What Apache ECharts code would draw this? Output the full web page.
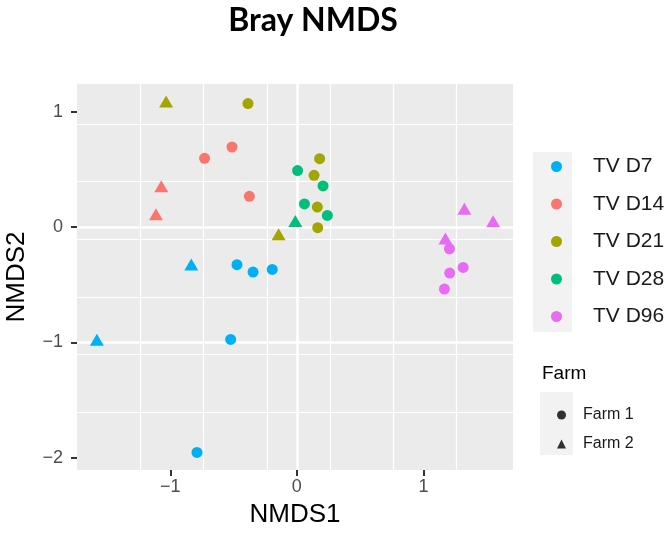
<!DOCTYPE html>
<html>
<head>
<meta charset="utf-8">
<script src="https://cdn.jsdelivr.net/npm/echarts@6/dist/echarts.min.js"></script>
<style>
  html, body { margin: 0; padding: 0; background: #fff; }
  #chart { width: 670px; height: 537px; }
</style>
</head>
<body>
<div id="chart"></div>
<script>
  // groups (legend order) and their ggplot hue colours
  const groups = ['TV D7', 'TV D14', 'TV D21', 'TV D28', 'TV D96'];
  const groupColors = ['#00B0F6', '#F8766D', '#A3A500', '#00BF7D', '#E76BF3'];

  // points: [NMDS1, NMDS2, farm]
  const d7 = [
    [-0.473, -0.326, 1], [-0.346, -0.39, 1], [-0.194, -0.367, 1],
    [-0.523, -0.974, 1], [-0.789, -1.954, 1],
    [-0.834, -0.324, 2], [-1.58, -0.977, 2]
  ];
  const d14 = [
    [-0.512, 0.694, 1], [-0.729, 0.596, 1], [-0.375, 0.266, 1],
    [-1.071, 0.353, 2], [-1.113, 0.11, 2]
  ];
  const d21 = [
    [-0.386, 1.07, 1], [0.18, 0.593, 1], [0.136, 0.448, 1],
    [0.162, 0.173, 1], [0.165, -0.005, 1],
    [-1.033, 1.088, 2], [-0.144, -0.063, 2]
  ];
  const d28 = [
    [0.006, 0.49, 1], [0.06, 0.2, 1], [0.207, 0.356, 1], [0.241, 0.101, 1],
    [-0.012, 0.052, 2]
  ];
  const d96 = [
    [1.206, -0.188, 1], [1.314, -0.35, 1], [1.208, -0.399, 1], [1.166, -0.538, 1],
    [1.324, 0.159, 2], [1.551, 0.05, 2], [1.174, -0.1, 2]
  ];
  const groupData = [d7, d14, d21, d28, d96];
  const farms = ['Farm 1', 'Farm 2'];

  const xTicks = [-1, 0, 1];
  const yTicks = [-2, -1, 0, 1];
  const xRange = [-1.737, 1.708];
  const yRange = [-2.106, 1.24];

  const chart = echarts.init(document.getElementById('chart'));

  const tickLabel = {
    color: '#4D4D4D', fontSize: 18, fontFamily: 'Liberation Sans',
    formatter: (v) => String(v).replace('-', '\u2212')
  };

  // major axis (labels, ticks, thick grid) + minor axis (thin grid only)
  function majorAxis(range, ticks, extra) {
    return Object.assign({
      type: 'value',
      min: range[0],
      max: range[1],
      interval: 1,
      axisLine: { show: false, onZero: false },
      axisTick: { show: true, length: 6, customValues: ticks, lineStyle: { color: '#333', width: 2 } },
      splitLine: { show: true, showMinLine: false, showMaxLine: false, lineStyle: { color: '#fff', width: 2.5 } },
      nameTextStyle: { color: '#000', fontSize: 26, fontFamily: 'Liberation Sans' }
    }, extra);
  }
  function minorAxis(range, pos) {
    return {
      type: 'value',
      position: pos,
      min: range[0],
      max: range[1],
      interval: 0.5,
      axisLine: { show: false, onZero: false },
      axisTick: { show: false },
      axisLabel: { show: false },
      splitLine: { show: true, showMinLine: false, showMaxLine: false, lineStyle: { color: '#fff', width: 1.2 } }
    };
  }

  const series = groups.map((g, i) => ({
    name: g,
    type: 'scatter',
    xAxisIndex: 1,
    yAxisIndex: 1,
    data: groupData[i],
    itemStyle: { color: groupColors[i], opacity: 1 },
    symbol: (v) => v[2] === 1 ? 'circle' : 'triangle',
    symbolSize: (v) => v[2] === 1 ? 11 : [14, 12],
    emphasis: { disabled: true }
  }));
  farms.forEach(f => series.push({
    name: f, type: 'scatter', xAxisIndex: 1, yAxisIndex: 1, data: [],
    itemStyle: { color: '#000' }
  }));

  chart.setOption({
    animation: false,
    title: {
      text: 'Bray NMDS',
      left: 308,
      top: 0,
      textAlign: 'center',
      textStyle: { fontFamily: 'Lato', fontWeight: 'bold', fontSize: 32, color: '#000' }
    },
    grid: {
      left: 77, right: 157, top: 84, bottom: 67,
      outerBoundsMode: 'none',
      show: true, backgroundColor: '#EBEBEB', borderWidth: 0
    },
    xAxis: [
      minorAxis(xRange, 'bottom'),
      majorAxis(xRange, xTicks, {
        position: 'bottom',
        name: 'NMDS1', nameLocation: 'middle', nameGap: 32,
        axisLabel: Object.assign({ customValues: xTicks, margin: 8 }, tickLabel)
      })
    ],
    yAxis: [
      minorAxis(yRange, 'left'),
      majorAxis(yRange, yTicks, {
        position: 'left',
        name: 'NMDS2', nameLocation: 'middle', nameGap: 47, nameRotate: 90,
        axisLabel: Object.assign({ customValues: yTicks, margin: 14 }, tickLabel)
      })
    ],
    legend: [
      {
        orient: 'vertical',
        left: 546,
        top: 151,
        itemWidth: 11,
        itemHeight: 11,
        itemGap: 16.5,
        selectedMode: false,
        data: groups.map(g => ({ name: g, icon: 'circle' })),
        textStyle: { fontSize: 21, color: '#1a1a1a', fontFamily: 'Liberation Sans', padding: [0, 0, 0, 26] }
      },
      {
        orient: 'vertical',
        left: 552,
        top: 402,
        itemWidth: 9,
        itemHeight: 9,
        itemGap: 13,
        selectedMode: false,
        data: [{ name: 'Farm 1', icon: 'circle' }, { name: 'Farm 2', icon: 'triangle' }],
        textStyle: { fontSize: 16, color: '#1a1a1a', fontFamily: 'Liberation Sans', padding: [0, 0, 0, 12] }
      }
    ],
    graphic: [
      { type: 'rect', z: -1, shape: { x: 533, y: 152, width: 39, height: 180 }, style: { fill: '#F2F2F2' } },
      { type: 'rect', z: -1, shape: { x: 540, y: 392, width: 33, height: 63 }, style: { fill: '#F2F2F2' } },
      { type: 'text', x: 542, y: 374, style: { text: 'Farm', fontSize: 19, fontFamily: 'Liberation Sans', fill: '#000', verticalAlign: 'middle' } }
    ],
    series: series
  });
</script>
</body>
</html>
